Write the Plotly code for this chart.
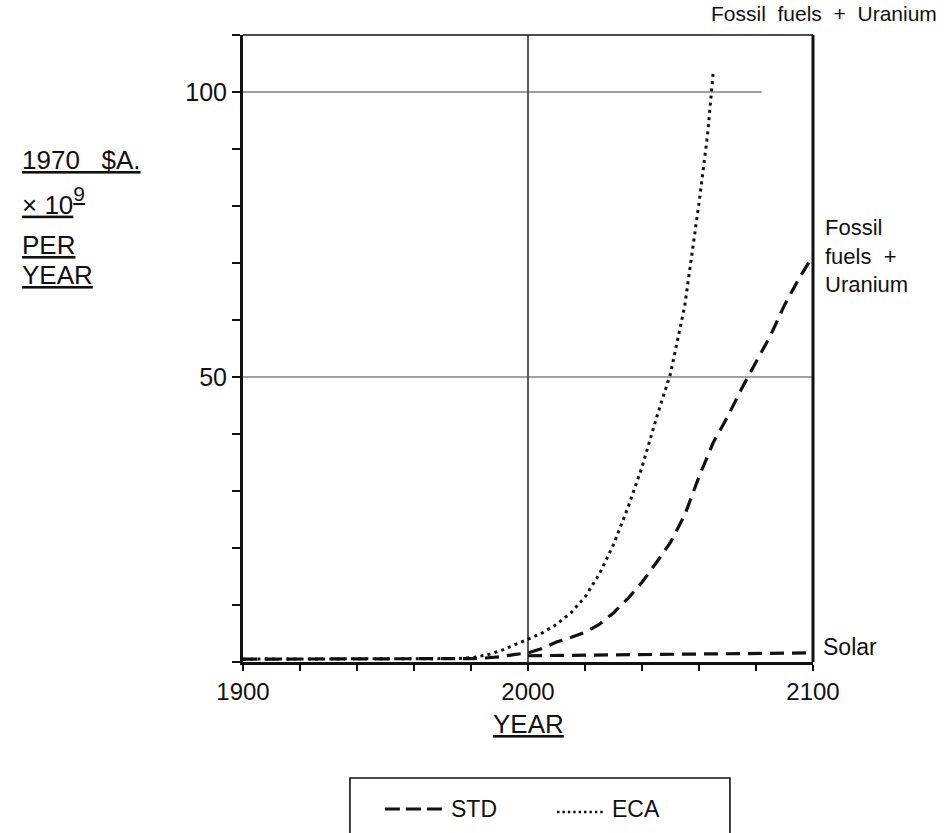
import plotly.graph_objects as go

# Annual expenditure, 1970 $A x 10^9 per year
std_years = [1900, 1920, 1940, 1960, 1980, 1985, 1990, 1995, 2000, 2005, 2010, 2015,
             2020, 2025, 2030, 2035, 2040, 2045, 2050, 2055, 2060, 2065, 2070, 2075,
             2080, 2085, 2090, 2095, 2100]
std_fossil = [0.5, 0.5, 0.5, 0.5, 0.6, 0.7, 0.9, 1.3, 1.6, 2.4, 3.5, 4.3,
              5.2, 6.6, 8.6, 11.1, 14.0, 17.4, 21.0, 25.8, 32.5, 38.5, 43.0, 48.0,
              52.5, 57.2, 62.6, 67.2, 71.3]

solar_years = [2000, 2020, 2050, 2080, 2100]
std_solar = [1.1, 1.2, 1.3, 1.45, 1.6]

eca_years = [1900, 1920, 1940, 1960, 1975, 1981, 1986, 1991, 1996, 2000, 2005, 2010,
             2015, 2020, 2025, 2030, 2035, 2040, 2045, 2050, 2055, 2060, 2063, 2065]
eca_fossil = [0.5, 0.5, 0.5, 0.6, 0.6, 0.8, 1.3, 2.1, 3.1, 4.0, 5.1, 6.6,
              8.6, 11.4, 15.4, 20.6, 27.0, 34.2, 42.7, 50.6, 62.5, 80.5, 92.5, 103.5]

y_labelled = [50, 100]
y_minor = [0, 10, 20, 30, 40, 60, 70, 80, 90, 110]
x_labelled = [1900, 2000, 2100]
x_minor = [1920, 1940, 1960, 1980, 2020, 2040, 2060, 2080]

FONT = "Liberation Sans"
INK = "#111111"

STD_DASH = dict(color=INK, width=3.2, dash="14px,8px")
ECA_DOTS = dict(color=INK, width=3.0, dash="3px,4.2px")

fig = go.Figure()

fig.add_trace(go.Scatter(x=std_years, y=std_fossil, mode="lines", name="STD",
                         line=STD_DASH, showlegend=False))
fig.add_trace(go.Scatter(x=solar_years, y=std_solar, mode="lines", name="STD",
                         line=STD_DASH, showlegend=False))
fig.add_trace(go.Scatter(x=eca_years, y=eca_fossil, mode="lines", name="ECA",
                         line=ECA_DOTS, showlegend=False))

# grid lines, frame, key box and key samples
shapes = [
    dict(type="line", xref="x", yref="y", x0=1900, x1=2100, y0=50, y1=50,
         line=dict(color="#444444", width=1.2), layer="below"),
    dict(type="line", xref="x", yref="y", x0=1900, x1=2082, y0=100, y1=100,
         line=dict(color="#444444", width=1.2), layer="below"),
    dict(type="line", xref="x", yref="paper", x0=2000, x1=2000, y0=0, y1=1,
         line=dict(color="#222222", width=1.5), layer="below"),
    dict(type="line", xref="paper", yref="paper", x0=0, x1=1, y0=1, y1=1,
         line=dict(color=INK, width=1.5)),
    dict(type="line", xref="paper", yref="paper", x0=1, x1=1, y0=0, y1=1,
         line=dict(color=INK, width=3)),
    dict(type="rect", xref="paper", yref="paper", x0=0.1877, x1=0.8543,
         y0=-0.30, y1=-0.185, line=dict(color=INK, width=1.6)),
    dict(type="line", xref="paper", yref="paper", x0=0.249, x1=0.356,
         y0=-0.2344, y1=-0.2344, line=dict(color=INK, width=3, dash="15px,6px")),
    dict(type="line", xref="paper", yref="paper", x0=0.551, x1=0.632,
         y0=-0.2392, y1=-0.2392, line=dict(color=INK, width=2.4, dash="2.4px,3px")),
]

ylab_font = dict(family=FONT, size=26, color=INK)
note_font = dict(family=FONT, size=23, color=INK)
annotations = [
    dict(text="Fossil  fuels  +  Uranium", xref="paper", yref="paper",
         x=1.019, y=1.0335, xanchor="center", yanchor="middle",
         showarrow=False, font=dict(family=FONT, size=21, color=INK)),
    dict(text="Fossil<br>fuels  +<br>Uranium", xref="paper", yref="y",
         x=1.0, y=78.8, xanchor="left", yanchor="top", xshift=10, align="left",
         showarrow=False, font=dict(family=FONT, size=22, color=INK)),
    dict(text="Solar", xref="paper", yref="y", x=1.0, y=2.6,
         xanchor="left", yanchor="middle", xshift=8,
         showarrow=False, font=note_font),
    dict(text="<u>1970   $A.</u>", xref="paper", yref="paper", x=-0.391, y=0.80,
         xanchor="left", yanchor="middle", showarrow=False, font=ylab_font),
    dict(text="<u>× 10<span style='font-size:30px'><sup>9</sup></span></u>",
         xref="paper", yref="paper", x=-0.391, y=0.735,
         xanchor="left", yanchor="middle", showarrow=False, font=ylab_font),
    dict(text="<u>PER</u>", xref="paper", yref="paper", x=-0.391, y=0.665,
         xanchor="left", yanchor="middle", showarrow=False, font=ylab_font),
    dict(text="<u>YEAR</u>", xref="paper", yref="paper", x=-0.391, y=0.618,
         xanchor="left", yanchor="middle", showarrow=False, font=ylab_font),
    dict(text="<u>YEAR</u>", xref="x", yref="paper", x=2000, y=0, yshift=-62,
         xanchor="center", yanchor="middle", showarrow=False, font=ylab_font),
    # key labels
    dict(text="STD", xref="paper", yref="paper", x=0.361, y=-0.2344,
         xanchor="left", yanchor="middle", showarrow=False, font=note_font),
    dict(text="ECA", xref="paper", yref="paper", x=0.6439, y=-0.2344,
         xanchor="left", yanchor="middle", showarrow=False, font=note_font),
]

minor_style = dict(ticks="outside", tickwidth=2, tickcolor=INK, showgrid=False)

fig.update_layout(
    width=952, height=833,
    margin=dict(l=243, r=139, t=35, b=171, autoexpand=False),
    paper_bgcolor="white", plot_bgcolor="white",
    font=dict(family=FONT, size=23, color=INK),
    shapes=shapes, annotations=annotations,
    showlegend=False,
    xaxis=dict(range=[1900, 2100], tickvals=x_labelled,
               ticks="outside", ticklen=6, tickwidth=2, tickcolor=INK,
               minor=dict(tickvals=x_minor, ticklen=6, **minor_style),
               showline=True, linewidth=3, linecolor=INK, showgrid=False,
               zeroline=False, tickfont=dict(family=FONT, size=24, color=INK)),
    yaxis=dict(range=[0, 110], tickvals=y_labelled,
               ticks="outside", ticklen=8, tickwidth=2, tickcolor=INK,
               minor=dict(tickvals=y_minor, ticklen=8, **minor_style),
               showline=True, linewidth=3, linecolor=INK, showgrid=False,
               zeroline=False, tickfont=dict(family=FONT, size=25, color=INK)),
)

fig.write_html("out.html")
